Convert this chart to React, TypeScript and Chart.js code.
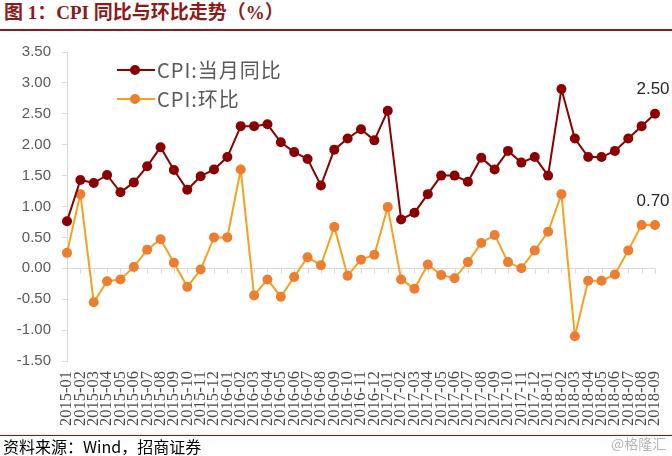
import React, { useEffect, useRef } from "react";
import { Chart, registerables } from "chart.js";

Chart.register(...registerables);

const months = [
  "2015-01", "2015-02", "2015-03", "2015-04", "2015-05", "2015-06", "2015-07", "2015-08", "2015-09", "2015-10", "2015-11", "2015-12",
  "2016-01", "2016-02", "2016-03", "2016-04", "2016-05", "2016-06", "2016-07", "2016-08", "2016-09", "2016-10", "2016-11", "2016-12",
  "2017-01", "2017-02", "2017-03", "2017-04", "2017-05", "2017-06", "2017-07", "2017-08", "2017-09", "2017-10", "2017-11", "2017-12",
  "2018-01", "2018-02", "2018-03", "2018-04", "2018-05", "2018-06", "2018-07", "2018-08", "2018-09",
];

const cpiYoY = [
  0.76, 1.43, 1.38, 1.51, 1.23, 1.39, 1.65, 1.96, 1.59, 1.27, 1.49, 1.60,
  1.80, 2.30, 2.30, 2.33, 2.04, 1.88, 1.77, 1.34, 1.92, 2.10, 2.25, 2.07,
  2.55, 0.79, 0.90, 1.20, 1.50, 1.50, 1.40, 1.79, 1.60, 1.90, 1.71, 1.80,
  1.50, 2.90, 2.10, 1.80, 1.80, 1.90, 2.10, 2.30, 2.50,
];

const cpiMoM = [
  0.25, 1.20, -0.55, -0.21, -0.18, 0.02, 0.30, 0.47, 0.09, -0.30, -0.02, 0.50,
  0.50, 1.60, -0.44, -0.18, -0.46, -0.14, 0.18, 0.05, 0.67, -0.12, 0.14, 0.22,
  0.99, -0.18, -0.33, 0.06, -0.11, -0.16, 0.10, 0.41, 0.54, 0.10, 0.00, 0.29,
  0.59, 1.20, -1.10, -0.20, -0.20, -0.10, 0.29, 0.70, 0.70,
];

const seriesNames = ["CPI:当月同比", "CPI:环比"];
const yMin = -1.5;
const yMax = 3.5;
const yStep = 0.5;

const RED = "#8B0000";
const ORANGE_LINE = "#F5A21E";
const ORANGE_DOT = "#ED7D31";

const overlayPlugin = {
  id: "overlay",
  beforeDatasetsDraw(chart: any) {
    const { ctx, scales } = chart;
    const x = scales.x;
    const y = scales.y;
    const y0 = Math.round(y.getPixelForValue(0)) + 0.5;
    ctx.save();
    ctx.strokeStyle = "#d9d9d9";
    ctx.lineWidth = 1;
    ctx.beginPath();
    ctx.moveTo(x.left, y0);
    ctx.lineTo(x.right, y0);
    for (let i = 0; i < months.length; i++) {
      const px = Math.round(x.getPixelForValue(i)) + 0.5;
      ctx.moveTo(px, y0);
      ctx.lineTo(px, y0 + 5);
    }
    ctx.stroke();
    ctx.restore();
  },
  afterDatasetsDraw(chart: any) {
    const { ctx } = chart;
    ctx.save();
    ctx.font = '17px "Liberation Sans", Arial, sans-serif';
    ctx.fillStyle = "#262626";
    ctx.textAlign = "center";
    ctx.textBaseline = "middle";
    const series = [cpiYoY, cpiMoM];
    series.forEach((arr, i) => {
      const meta = chart.getDatasetMeta(i);
      const last = meta.data[arr.length - 1];
      if (!last) return;
      ctx.fillText(arr[arr.length - 1].toFixed(2), last.x - 2, last.y - 24);
    });
    ctx.restore();
  },
};

function ChartCanvas() {
  const ref = useRef<HTMLCanvasElement | null>(null);
  useEffect(() => {
    if (!ref.current) return;
    const chart = new Chart(ref.current, {
      type: "line",
      data: {
        labels: months,
        datasets: [
          {
            label: seriesNames[0],
            data: cpiYoY,
            borderColor: RED,
            backgroundColor: RED,
            pointBackgroundColor: RED,
            pointBorderColor: RED,
            borderWidth: 2,
            pointRadius: 5,
            pointBorderWidth: 0,
            tension: 0,
          },
          {
            label: seriesNames[1],
            data: cpiMoM,
            borderColor: ORANGE_LINE,
            backgroundColor: ORANGE_DOT,
            pointBackgroundColor: ORANGE_DOT,
            pointBorderColor: ORANGE_DOT,
            borderWidth: 2,
            pointRadius: 5,
            pointBorderWidth: 0,
            tension: 0,
          },
        ],
      },
      options: {
        responsive: false,
        maintainAspectRatio: false,
        animation: false,
        layout: { padding: { left: 0, right: 17, top: 20, bottom: 0 } },
        plugins: {
          legend: { display: false },
          tooltip: { enabled: false },
        },
        scales: {
          x: {
            type: "category",
            offset: false,
            grid: { display: false, drawTicks: false },
            border: { display: false },
            ticks: {
              autoSkip: false,
              minRotation: 90,
              maxRotation: 90,
              padding: 10,
              color: "#4a4a4a",
              font: { family: '"Liberation Serif", "Times New Roman", serif', size: 16.5 },
            },
            afterFit: (s: any) => {
              s.height = 74;
              s.paddingRight = 0;
              s.paddingLeft = 0;
            },
          },
          y: {
            min: yMin,
            max: yMax,
            border: { display: true, color: "#d9d9d9" },
            grid: { drawOnChartArea: false, drawTicks: true, tickLength: 5, tickColor: "#d9d9d9" },
            ticks: {
              stepSize: yStep,
              padding: 11,
              color: "#595959",
              font: { family: '"Liberation Sans", Arial, sans-serif', size: 15 },
              callback: (v: any) => Number(v).toFixed(2),
            },
            afterFit: (s: any) => {
              s.width = 67;
            },
          },
        },
      },
      plugins: [overlayPlugin],
    } as any);
    return () => chart.destroy();
  }, []);
  return (
    <canvas
      ref={ref}
      width={672}
      height={403}
      style={{ position: "absolute", left: 0, top: 32, width: 672, height: 403 }}
    />
  );
}

function LegendItem({ top, line, dot, text }: { top: number; line: string; dot: string; text: string }) {
  return (
    <div style={{ position: "absolute", left: 117, top: top - 15, height: 30, display: "flex", alignItems: "center" }}>
      <div style={{ position: "relative", width: 38, height: 30 }}>
        <div style={{ position: "absolute", left: 0, top: 14, width: 38, height: 2, background: line }} />
        <div
          style={{
            position: "absolute",
            left: 13,
            top: 10,
            width: 10,
            height: 10,
            borderRadius: "50%",
            background: dot,
          }}
        />
      </div>
      <span
        style={{
          marginLeft: 2,
          fontFamily: '"Noto Sans CJK SC", "Noto Sans", sans-serif',
          fontSize: 20,
          color: "#595959",
          letterSpacing: 1,
          whiteSpace: "nowrap",
          lineHeight: "30px",
        }}
      >
        {text}
      </span>
    </div>
  );
}

export default function App() {
  return (
    <div
      style={{
        position: "absolute",
        left: 0,
        top: 0,
        width: 672,
        height: 456,
        background: "#ffffff",
        overflow: "hidden",
      }}
    >
      <div
        style={{
          position: "absolute",
          left: 4,
          top: 1,
          fontFamily: '"Liberation Serif", "Noto Sans CJK SC", serif',
          fontWeight: "bold",
          fontSize: 19,
          color: "#8B1A1A",
          whiteSpace: "nowrap",
          lineHeight: "24px",
        }}
      >
        图 1：CPI 同比与环比走势（%）
      </div>
      <div style={{ position: "absolute", left: 0, top: 29, width: 672, height: 2, background: "#8B1A1A" }} />
      <ChartCanvas />
      <LegendItem top={70} line={RED} dot={RED} text={seriesNames[0]} />
      <LegendItem top={99} line={ORANGE_LINE} dot={ORANGE_DOT} text={seriesNames[1]} />
      <div style={{ position: "absolute", left: 0, top: 435, width: 672, height: 1, background: "#C00000" }} />
      <div
        style={{
          position: "absolute",
          left: 3,
          top: 437,
          fontFamily: '"Noto Sans CJK SC", "Liberation Sans", sans-serif',
          fontSize: 16,
          color: "#000",
          whiteSpace: "nowrap",
          lineHeight: "19px",
        }}
      >
        资料来源：Wind，招商证券
      </div>
      <div
        style={{
          position: "absolute",
          left: 611,
          top: 434,
          fontFamily: '"Noto Sans CJK SC", sans-serif',
          fontSize: 14,
          color: "#b5b5b5",
          whiteSpace: "nowrap",
          lineHeight: "18px",
        }}
      >
        @格隆汇
      </div>
    </div>
  );
}
